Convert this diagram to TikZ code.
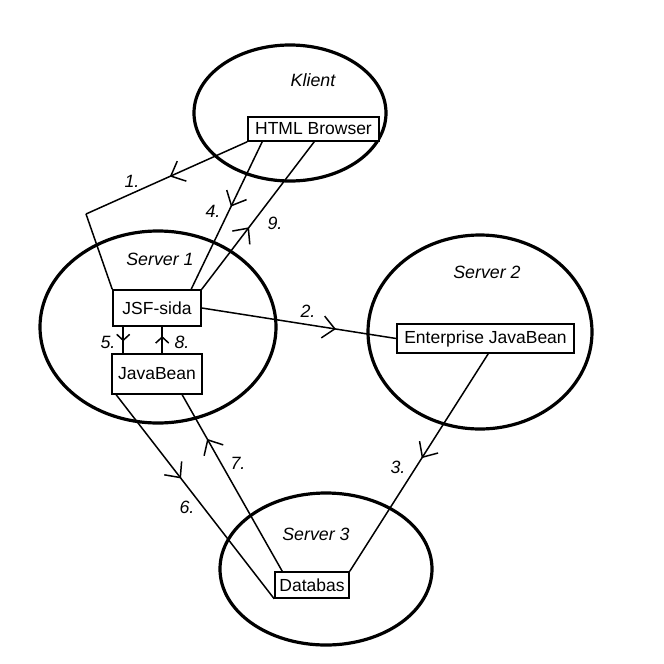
\documentclass[tikz,border=0pt]{standalone}
\usepackage{fontspec}
\setmainfont{Liberation Sans}
\usetikzlibrary{arrows.meta,decorations.markings}
\tikzset{
  cloud/.style={draw, line width=3.2pt},
  box/.style={draw, line width=1.6pt, fill=white, inner sep=0pt, font=\fontsize{17.5}{20}\selectfont},
  conn/.style={line width=1.5pt},
  midarrow/.style={postaction={decorate}, decoration={markings, mark=at position #1 with {\arrow{Straight Barb[length=12pt,width=22pt,line width=1.5pt]}}}},
  smallarrow/.style={postaction={decorate}, decoration={markings, mark=at position #1 with {\arrow{Straight Barb[length=6pt,width=13pt,line width=1.5pt]}}}},
  lab/.style={font=\itshape\fontsize{17.8}{20}\selectfont}
}
\begin{document}
\begin{tikzpicture}[x=1pt,y=-1pt]
\useasboundingbox (0,0) rectangle (664,664);
\fill[white] (0,0) rectangle (664,664);
% clouds
\draw[cloud] (290,113) ellipse [x radius=96, y radius=68];
\draw[cloud] (158,327) ellipse [x radius=118, y radius=96];
\draw[cloud] (480,332) ellipse [x radius=112, y radius=97];
\draw[cloud] (326,569) ellipse [x radius=106, y radius=76];
% titles
\node[lab] (tk) at (313,80) {Klient};
\node[lab] (t1) at (160,259) {Server 1};
\node[lab] (t2) at (487,272) {Server 2};
\node[lab] (t3) at (316,534) {Server 3};
% boxes
\node[box, minimum width=131pt, minimum height=24pt] (html) at (313.5,129) {HTML Browser};
\node[box, minimum width=88pt, minimum height=36pt] (jsf) at (157,308) {JSF-sida};
\node[box, minimum width=90pt, minimum height=40pt] (jb) at (157,374) {JavaBean};
\node[box, minimum width=177pt, minimum height=29pt] (ent) at (485.5,338.5) {Enterprise JavaBean};
\node[box, minimum width=74pt, minimum height=26pt] (db) at (312,585) {Databas};
\coordinate (c1) at (86,214);
% connectors
\draw[conn, midarrow=0.48] (html.south west) -- (c1);
\draw[conn] (c1) -- (jsf.north west);
\draw[conn, midarrow=0.44] ([xshift=15pt]html.south west) -- ([xshift=79pt]jsf.north west);
\draw[conn, midarrow=0.42] (jsf.north east) -- ([xshift=67pt]html.south west);
\draw[conn, midarrow=0.69] (jsf.east) -- (ent.west);
\draw[conn, midarrow=0.48] ([xshift=92pt]ent.south west) -- (db.north east);
\draw[conn, smallarrow=0.55] ([xshift=11pt]jsf.south west) -- ([xshift=12pt]jb.north west);
\draw[conn, smallarrow=0.65] ([xshift=51pt]jb.north west) -- ([xshift=50pt]jsf.south west);
\draw[conn, midarrow=0.41] ([xshift=5pt]jb.south west) -- (db.south west);
\draw[conn, midarrow=0.75] ([xshift=8pt]db.north west) -- ([xshift=71pt]jb.south west);
% labels
\node[lab] (l1) at (132,181) {1.};
\node[lab] (l4) at (213,211) {4.};
\node[lab] (l9) at (275,223) {9.};
\node[lab] (l2) at (308,311) {2.};
\node[lab] (l3) at (398,467) {3.};
\node[lab] (l5) at (108,342) {5.};
\node[lab] (l8) at (182,342) {8.};
\node[lab] (l6) at (187,507) {6.};
\node[lab] (l7) at (238,463) {7.};
\end{tikzpicture}
\end{document}
